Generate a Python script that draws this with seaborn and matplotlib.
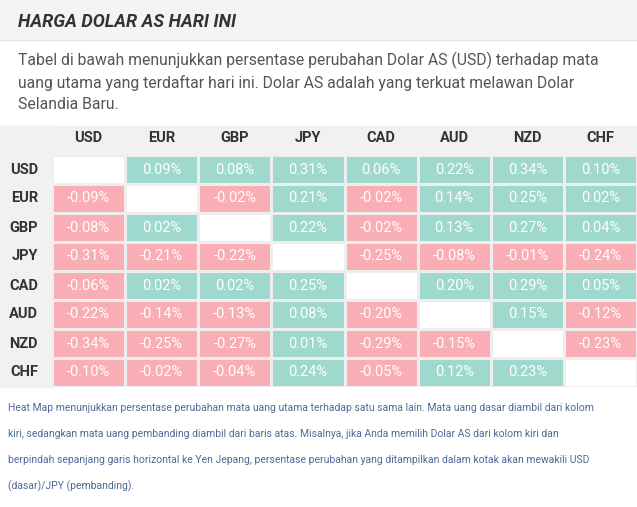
import numpy as np
import pandas as pd
import matplotlib
matplotlib.use("Agg")
from matplotlib import pyplot as plt
from matplotlib.colors import ListedColormap
import seaborn as sns

currencies = ["USD", "EUR", "GBP", "JPY", "CAD", "AUD", "NZD", "CHF"]
changes = [
    [np.nan, 0.09, 0.08, 0.31, 0.06, 0.22, 0.34, 0.10],
    [-0.09, np.nan, -0.02, 0.21, -0.02, 0.14, 0.25, 0.02],
    [-0.08, 0.02, np.nan, 0.22, -0.02, 0.13, 0.27, 0.04],
    [-0.31, -0.21, -0.22, np.nan, -0.25, -0.08, -0.01, -0.24],
    [-0.06, 0.02, 0.02, 0.25, np.nan, 0.20, 0.29, 0.05],
    [-0.22, -0.14, -0.13, 0.08, -0.20, np.nan, 0.15, -0.12],
    [-0.34, -0.25, -0.27, 0.01, -0.29, -0.15, np.nan, -0.23],
    [-0.10, -0.02, -0.04, 0.24, -0.05, 0.12, 0.23, np.nan],
]

title = "HARGA DOLAR AS HARI INI"
description = ("Tabel di bawah menunjukkan persentase perubahan Dolar AS (USD) terhadap mata\n"
               "uang utama yang terdaftar hari ini. Dolar AS adalah yang terkuat melawan Dolar\n"
               "Selandia Baru.")
footer = ["Heat Map menunjukkan persentase perubahan mata uang utama terhadap satu sama lain. Mata uang dasar diambil dari kolom",
          "kiri, sedangkan mata uang pembanding diambil dari baris atas. Misalnya, jika Anda memilih Dolar AS dari kolom kiri dan",
          "berpindah sepanjang garis horizontal ke Yen Jepang, persentase perubahan yang ditampilkan dalam kotak akan mewakili USD",
          "(dasar)/JPY (pembanding)."]

df = pd.DataFrame(changes, index=currencies, columns=currencies)
sign = np.sign(df).replace(0, 1)
labels = df.map(lambda v: "" if pd.isna(v) else f"{v:.2f}%")

W, H = 637, 507
fig = plt.figure(figsize=(W / 100, H / 100), dpi=100)
plt.rcParams["font.family"] = "Roboto"

def fx(px): return px / W
def fy(py): return 1 - py / H

# background bands
bg = fig.add_axes([0, 0, 1, 1], zorder=-1)
bg.set_xlim(0, W); bg.set_ylim(H, 0); bg.axis("off")
bg.add_patch(plt.Rectangle((0, 0), W, 40, color="#f4f4f4"))
bg.add_patch(plt.Rectangle((0, 126), W, 29, color="#f1f1f1"))
bg.add_patch(plt.Rectangle((0, 126), 52, 261, color="#f1f1f1"))
bg.plot([0, W], [40, 40], color="#e4e4e4", lw=1)

fig.text(fx(18), fy(22), title, fontsize=13, fontweight="bold", fontstyle="italic",
         color="#333333", va="center")
fig.text(fx(18), fy(52), description, fontsize=11.3, color="#555555", va="top",
         linespacing=1.45)
for i, line in enumerate(footer):
    fig.text(fx(8), fy(408 + i * 26), line, fontsize=7.5, color="#4d6b95", va="center")

ax = fig.add_axes([fx(52), fy(387), fx(W - 52), (387 - 155) / H])
cmap = ListedColormap(["#f8aeb4", "#9fd8cc"])
sns.heatmap(sign, mask=df.isna(), cmap=cmap, vmin=-1, vmax=1, cbar=False,
            annot=labels, fmt="", linewidths=1, linecolor="#eeeeee",
            annot_kws={"color": "white", "fontsize": 10.5}, ax=ax)
ax.xaxis.tick_top()
ax.set_xlabel(""); ax.set_ylabel("")
ax.tick_params(axis="x", length=0, pad=7)
ax.tick_params(axis="y", length=0, pad=10)
ax.set_xticklabels(currencies, fontsize=10.5, fontweight="bold", color="#333333")
ax.set_yticklabels(currencies, fontsize=10.5, fontweight="bold", color="#333333", rotation=0)

fig.savefig("out.png", dpi=100)
